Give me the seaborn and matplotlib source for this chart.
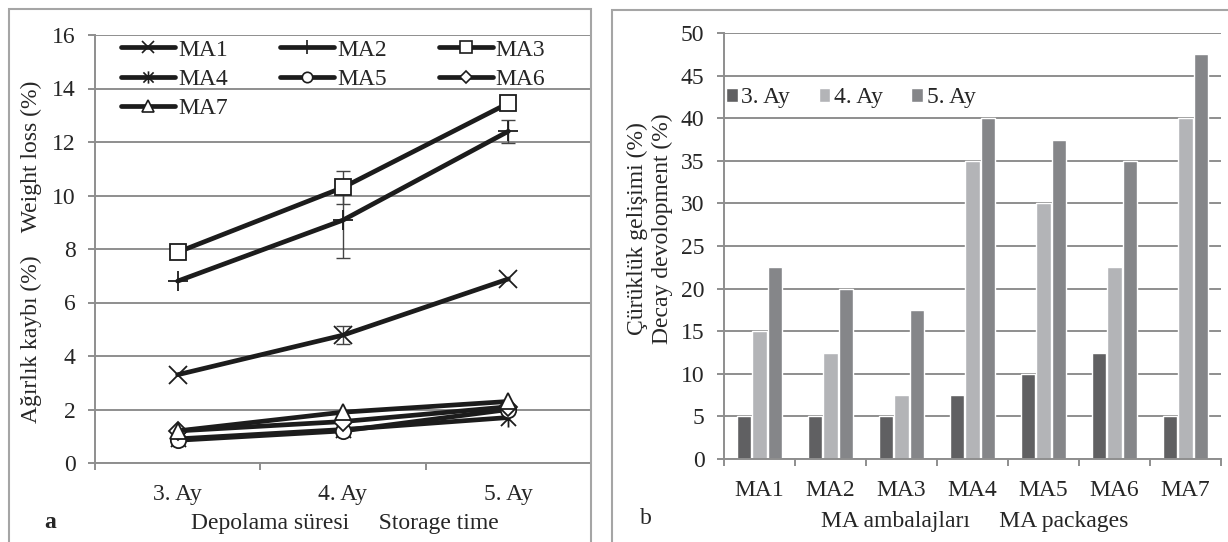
import numpy as np
import pandas as pd
import seaborn as sns
import matplotlib.pyplot as plt
from matplotlib.path import Path
from matplotlib.patches import Rectangle
from matplotlib.lines import Line2D

# panel a: weight loss
times = ['3. Ay', '4. Ay', '5. Ay']
packages = ['MA1', 'MA2', 'MA3', 'MA4', 'MA5', 'MA6', 'MA7']
ma1 = [3.3, 4.78, 6.88]
ma2 = [6.8, 9.08, 12.4]
ma3 = [7.88, 10.3, 13.45]
ma4 = [0.9, 1.25, 1.7]
ma5 = [0.85, 1.2, 2.0]
ma6 = [1.2, 1.55, 2.1]
ma7 = [1.2, 1.9, 2.3]
# error bars (package, time index, +/-)
err_pkg = ['MA1', 'MA2', 'MA2', 'MA3']
err_time = [1, 1, 2, 1]
err_val = [0.33, 1.4, 0.42, 0.6]

# panel b: decay
decay_3 = [5, 5, 5, 7.5, 10, 12.5, 5]
decay_4 = [15, 12.5, 7.5, 35, 30, 22.5, 40]
decay_5 = [22.5, 20, 17.5, 40, 37.5, 35, 47.5]
months = ['3. Ay', '4. Ay', '5. Ay']

sns.set_style('white')
plt.rcParams['font.family'] = ['Liberation Serif', 'DejaVu Serif']
FS = 17
plt.rcParams['font.size'] = FS

W, H = 1228, 542
fig = plt.figure(figsize=(W / 100, H / 100), dpi=100)

def box(x0, y0, x1, y1):
    # pixel coords (top-left origin) -> figure fraction
    return [x0 / W, 1 - y1 / H, (x1 - x0) / W, (y1 - y0) / H]

grid_c = '#8e8e8e'
ink = '#1c1c1c'

# frames around the two panels
fig.patches.append(Rectangle((9 / W, -0.05), (591 - 9) / W, 1 - 9 / H + 0.05,
                             transform=fig.transFigure, fill=False,
                             ec='#a5a5a5', lw=1.5))
fig.patches.append(Rectangle((612 / W, -0.05), (1240 - 612) / W, 1 - 10 / H + 0.05,
                             transform=fig.transFigure, fill=False,
                             ec='#a5a5a5', lw=1.5))

def excel_axes(ax, ncat, top, step):
    ax.set_xlim(-0.5, ncat - 0.5)
    ax.set_ylim(0, top)
    ax.set_yticks(np.arange(0, top + 0.01, step))
    ax.set_xticks(np.arange(ncat + 1) - 0.5)
    ax.set_xticklabels([])
    ax.set_xticks(np.arange(ncat), minor=True)
    ax.grid(axis='y', color=grid_c, lw=1.4)
    ax.grid(axis='x', visible=False)
    ax.set_axisbelow(True)
    for s in ['top', 'right']:
        ax.spines[s].set_visible(False)
    for s in ['left', 'bottom']:
        ax.spines[s].set_color(grid_c)
        ax.spines[s].set_linewidth(1.4)
    ax.tick_params(axis='y', which='major', length=5, width=1.4, color=grid_c,
                   labelsize=FS, pad=9, left=True)
    ax.tick_params(axis='x', which='major', length=5, width=1.4, color=grid_c,
                   direction='out', bottom=True)
    ax.tick_params(axis='x', which='minor', length=0, labelsize=FS, pad=15)
    ax.set_xlabel('')
    ax.set_ylabel('')

# ---- panel a ----
ax1 = fig.add_axes(box(95, 35, 591, 463))
star = Path([(-1, -1), (1, 1), (-1, 1), (1, -1), (0, -1.2), (0, 1.2)],
            [Path.MOVETO, Path.LINETO, Path.MOVETO, Path.LINETO, Path.MOVETO, Path.LINETO])
markers = {'MA1': 'x', 'MA2': '+', 'MA3': 's', 'MA4': star,
           'MA5': 'o', 'MA6': 'D', 'MA7': '^'}
msizes = {'MA1': 13, 'MA2': 15, 'MA3': 12, 'MA4': 13, 'MA5': 11, 'MA6': 9, 'MA7': 12}
series = dict(zip(packages, [ma1, ma2, ma3, ma4, ma5, ma6, ma7]))
df = pd.DataFrame([(p, i, v) for p in packages for i, v in enumerate(series[p])],
                  columns=['pkg', 't', 'val'])

for p in packages:
    sns.lineplot(data=df[df.pkg == p], x='t', y='val', color=ink, lw=3.4,
                 marker=markers[p], markersize=msizes[p], markerfacecolor='white',
                 markeredgecolor=ink, markeredgewidth=1.3, ax=ax1, legend=False)

for p, t, e in zip(err_pkg, err_time, err_val):
    ax1.errorbar(t, series[p][t], yerr=e, fmt='none', ecolor='#444444',
                 elinewidth=1.0, capsize=5, capthick=1.0, zorder=1)

excel_axes(ax1, 3, 16, 2)
ax1.set_xticklabels(times, minor=True)

# legend filled row by row (matplotlib fills columns first)
leg_order = ['MA1', 'MA4', 'MA7', 'MA2', 'MA5', 'MA3', 'MA6']
handles = [Line2D([], [], color=ink, lw=3.4, marker=markers[p], markersize=msizes[p] * 0.68,
                  markerfacecolor='white', markeredgecolor=ink, markeredgewidth=1.2)
           for p in leg_order]
ax1.legend(handles, leg_order, ncol=3, frameon=False, loc='upper left',
           bbox_to_anchor=(121 / W, 1 - 39 / H), bbox_transform=fig.transFigure,
           handlelength=2.3, handletextpad=0.12, columnspacing=2.2,
           labelspacing=0.33, fontsize=FS, borderpad=0, borderaxespad=0)

fig.text(31 / W, 1 - 252 / H, 'Ağırlık kaybı (%)    Weight loss (%)',
         rotation=90, ha='center', va='center', fontsize=FS)
fig.text(345 / W, 1 - 524 / H, 'Depolama süresi     Storage time',
         ha='center', va='center', fontsize=FS)
fig.text(50 / W, 1 - 522 / H, 'a', ha='center', va='center', fontsize=FS,
         fontweight='bold')

# ---- panel b ----
ax2 = fig.add_axes(box(724, 33, 1221, 459))
bars = pd.DataFrame({'pkg': packages * 3,
                     'month': sum([[m] * len(packages) for m in months], []),
                     'val': decay_3 + decay_4 + decay_5})
bar_colors = ['#606062', '#b3b4b7', '#858689']
sns.barplot(data=bars, x='pkg', y='val', hue='month', palette=bar_colors,
            width=0.65, gap=0.08, ax=ax2, saturation=1, legend=True)
excel_axes(ax2, 7, 50, 5)
ax2.set_xticklabels(packages, minor=True)
ax2.legend(ncol=3, frameon=False, loc='center left',
           bbox_to_anchor=(726 / W, 1 - 98 / H), bbox_transform=fig.transFigure,
           handlelength=0.5, handleheight=0.5, handletextpad=0.15, columnspacing=1.2,
           fontsize=FS, borderpad=0, borderaxespad=0, title=None)

fig.text(637 / W, 1 - 229 / H, 'Çürüklük gelişimi (%)', rotation=90,
         ha='center', va='center', fontsize=FS)
fig.text(662 / W, 1 - 229 / H, 'Decay devolopment (%)', rotation=90,
         ha='center', va='center', fontsize=FS)
fig.text(975 / W, 1 - 522 / H, 'MA ambalajları     MA packages',
         ha='center', va='center', fontsize=FS)
fig.text(646 / W, 1 - 519 / H, 'b', ha='center', va='center', fontsize=FS)

fig.savefig('out.png', dpi=100)
